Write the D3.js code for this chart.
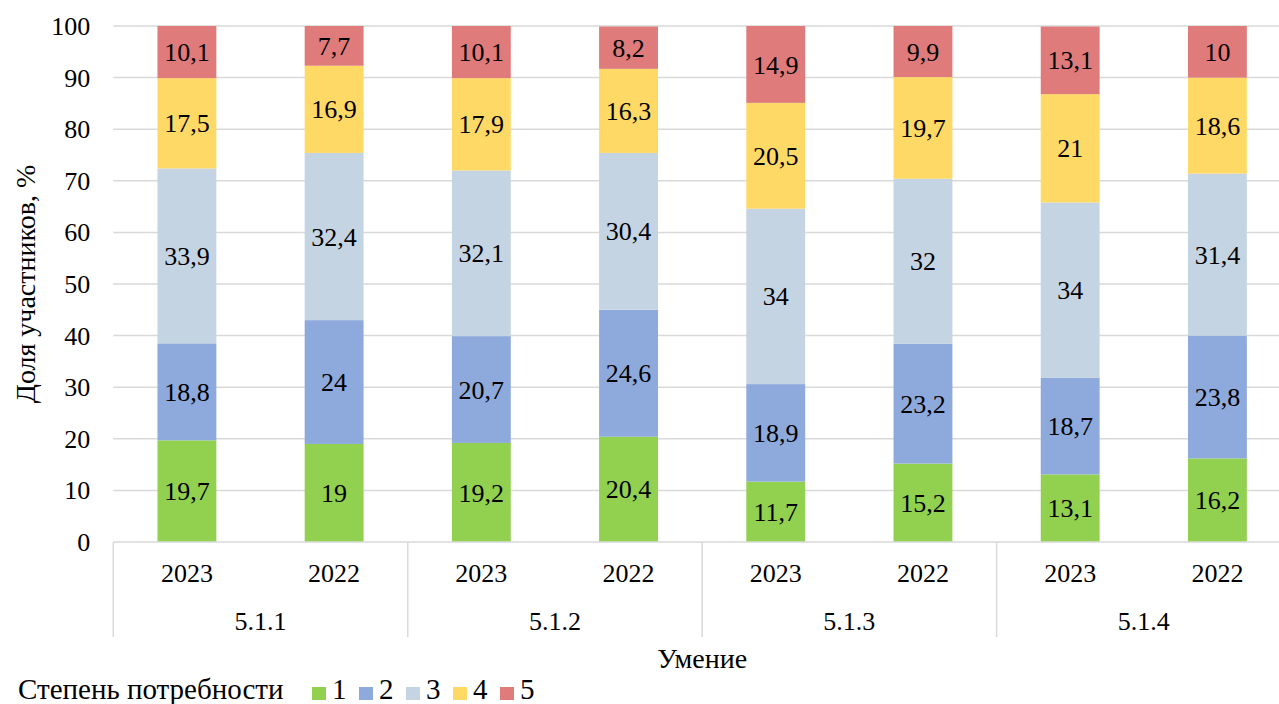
<!DOCTYPE html>
<html><head><meta charset="utf-8">
<script src="https://cdn.jsdelivr.net/npm/d3@7"></script>
</head>
<body style="margin:0;background:#fff"><svg id="c" width="1279" height="704" style="font-family:'Times New Roman','Liberation Serif',serif"></svg>
<script>
const groups = ["5.1.1","5.1.2","5.1.3","5.1.4"];
const years = ["2023","2022"];
const seriesNames = ["1","2","3","4","5"];
const colors = ["#92D050","#8EA9DB","#C5D4E2","#FFD966","#E07B7B"];
const s1 = [19.7,19,19.2,20.4,11.7,15.2,13.1,16.2];
const s2 = [18.8,24,20.7,24.6,18.9,23.2,18.7,23.8];
const s3 = [33.9,32.4,32.1,30.4,34,32,34,31.4];
const s4 = [17.5,16.9,17.9,16.3,20.5,19.7,21,18.6];
const s5 = [10.1,7.7,10.1,8.2,14.9,9.9,13.1,10];
const yTicks = [0,10,20,30,40,50,60,70,80,90,100];
const yTitle = "Доля участников, %";
const xTitle = "Умение";
const legendTitle = "Степень потребности";

const series = [s1,s2,s3,s4,s5];
const cats = [];
groups.forEach(g=>years.forEach(y=>cats.push(g+"|"+y)));
const rows = cats.map((c,i)=>{const o={cat:c}; seriesNames.forEach((n,k)=>o[n]=series[k][i]); return o;});
const stack = d3.stack().keys(seriesNames)(rows);

const FF = "Times New Roman";
const svg = d3.select("#c");
const x0 = 113.3, x1 = 1291;
const x = d3.scaleBand().domain(cats).range([x0,x1]).paddingInner(0.6).paddingOuter(0.3);
const y = d3.scaleLinear().domain([0,100]).range([542,26]);
const grid = "#D9D9D9";
const fs = 26;
const fsT = 28;
const fsL = 29;
function T(sel,size){ return sel.style("font-family",FF).style("font-size",size+"px").attr("fill","#000"); }

// gridlines
svg.append("g").selectAll("line").data(yTicks.filter(t=>t>0)).join("line")
  .attr("x1",x0).attr("x2",1279).attr("y1",d=>y(d)).attr("y2",d=>y(d))
  .attr("stroke",grid).attr("stroke-width",1.5);

// y axis labels
const yAxis = svg.append("g").attr("transform",`translate(${x0},0)`)
  .call(d3.axisLeft(y).tickValues(yTicks).tickSize(0).tickPadding(23));
yAxis.attr("font-family",null);
yAxis.select(".domain").remove();
T(yAxis.selectAll("text"),fs).attr("dy","0.33em");

// bars
const layer = svg.append("g").selectAll("g").data(stack).join("g").attr("fill",(d,i)=>colors[i]);
layer.selectAll("rect").data(d=>d).join("rect")
  .attr("x",d=>x(d.data.cat)).attr("width",x.bandwidth())
  .attr("y",d=>y(d[1])).attr("height",d=>y(d[0])-y(d[1]));

// data labels
const lab = svg.append("g");
stack.forEach((s,si)=>{
  T(lab.selectAll(null).data(s).join("text"),fs)
    .attr("x",d=>x(d.data.cat)+x.bandwidth()/2)
    .attr("y",d=>(y(d[0])+y(d[1]))/2)
    .attr("dy","0.35em").attr("text-anchor","middle")
    .text(d=>String(series[si][cats.indexOf(d.data.cat)]).replace(".",","));
});

// x axis line
svg.append("line").attr("x1",x0).attr("x2",1279).attr("y1",y(0)).attr("y2",y(0)).attr("stroke",grid).attr("stroke-width",1.5);
// separators
const step = (x1-x0)/cats.length;
const seps = d3.range(groups.length+1).map(i=>x0+i*2*step);
svg.append("g").selectAll("line").data(seps).join("line")
  .attr("x1",d=>d).attr("x2",d=>d).attr("y1",y(0)).attr("y2",637)
  .attr("stroke",grid).attr("stroke-width",1.5);

// year labels
T(svg.append("g").selectAll("text").data(cats).join("text"),fs)
  .attr("x",d=>x(d)+x.bandwidth()/2).attr("y",582).attr("text-anchor","middle")
  .text(d=>d.split("|")[1]);
// group labels
T(svg.append("g").selectAll("text").data(groups).join("text"),fs)
  .attr("x",(d,i)=>x0+(2*i+1)*step).attr("y",630).attr("text-anchor","middle")
  .text(d=>d);

// axis titles
T(svg.append("text"),fsT).attr("x",(x0+x1)/2).attr("y",668).attr("text-anchor","middle").text(xTitle);
T(svg.append("text"),fsT).attr("transform",`translate(35,${(y(0)+y(100))/2}) rotate(-90)`).attr("text-anchor","middle").text(yTitle);

// legend
const lg = svg.append("g");
T(lg.append("text"),fsL).attr("x",18).attr("y",699).text(legendTitle);
seriesNames.forEach((n,i)=>{
  const lx = 312 + i*47;
  lg.append("rect").attr("x",lx).attr("y",687).attr("width",14).attr("height",13).attr("fill",colors[i]);
  T(lg.append("text"),fsL).attr("x",lx+20).attr("y",699).text(n);
});
</script></body></html>
